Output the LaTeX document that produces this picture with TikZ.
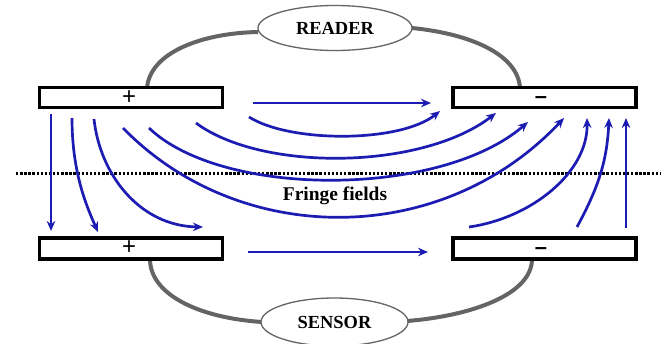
\documentclass[tikz,border=0pt]{standalone}
\usepackage{fontspec}
\setmainfont{Liberation Serif}
\newfontfamily\arial{Liberation Sans}
\usetikzlibrary{shapes.geometric,arrows.meta}
\definecolor{fieldblue}{RGB}{28,28,178}
\definecolor{wiregray}{RGB}{100,100,100}
\tikzset{
  plate/.style={draw=black, line width=3.4bp, fill=white, minimum width=183bp, minimum height=20bp, inner sep=0pt},
  unit/.style={ellipse, draw=wiregray, line width=1.3bp, fill=white, inner sep=0pt, font=\bfseries\fontsize{18.5}{19}\selectfont},
  plussign/.style={inner sep=0pt, font=\arial\fontsize{24}{24}\selectfont},
  minussign/.style={inner sep=0pt, anchor=base, font=\arial\bfseries\fontsize{22}{22}\selectfont},
  wire/.style={draw=wiregray, line width=4bp},
  field/.style={draw=fieldblue, line width=2.7bp, -{Stealth[length=10bp,width=8.5bp]}},
  fence/.style={line width=2.7bp, dash pattern=on 2.4bp off 1.7bp},
}
\begin{document}
\begin{tikzpicture}[x=1bp,y=-1bp]
\useasboundingbox (0,0) rectangle (661,343);
\fill[white] (0,0) rectangle (661,343);

% wires (drawn first, behind)
\coordinate (wTL) at (147,88);
\coordinate (wRL) at (258,32);
\coordinate (wRR) at (412,28);
\coordinate (wTR) at (520,88);
\coordinate (wBL) at (150,259);
\coordinate (wSL) at (262,322);
\coordinate (wSR) at (407,321);
\coordinate (wBR) at (532,259);
\draw[wire] (wTL) .. controls (150,52) and (203,33) .. (wRL);
\draw[wire] (wRR) .. controls (472,34) and (518,55) .. (wTR);
\draw[wire] (wBL) .. controls (150,295) and (200,318) .. (wSL);
\draw[wire] (wSR) .. controls (470,316) and (532,295) .. (wBR);

% units
\node[unit, minimum width=154bp, minimum height=45bp] (reader) at (335,28) {READER};
\node[unit, minimum width=147bp, minimum height=48bp] (sensor) at (334.5,322) {SENSOR};

% plates
\node[plate] (tl) at (131,97.5) {};
\node[plate] (tr) at (544.5,97.5) {};
\node[plate, minimum height=21bp] (bl) at (131,248.5) {};
\node[plate, minimum height=21bp] (br) at (544.5,248.5) {};
\node[plussign] (tlp) at (129,98) {+};
\node[plussign] (blp) at (129,248) {+};
\node[minussign] (trm) at (541,103) {–};
\node[minussign] (brm) at (541,254) {–};

% dotted boundary
\coordinate (fa) at (16,173.5);
\coordinate (fb) at (661,173.5);
\draw[fence] (fa) -- (fb);

\node[font=\bfseries\fontsize{19.5}{20}\selectfont] (fringe) at (335,196) {Fringe fields};

% field lines: straight
\coordinate (s1) at (253,103); \coordinate (e1) at (431,103);
\draw[field] (s1) -- (e1);
\coordinate (s2) at (248,252); \coordinate (e2) at (428,252);
\draw[field] (s2) -- (e2);

% arcs top-left to top-right
\coordinate (a1s) at (249,117); \coordinate (a1e) at (440,111);
\draw[field] (a1s) .. controls (290,143) and (400,143) .. (a1e);
\coordinate (a2s) at (196,123); \coordinate (a2e) at (496,113);
\draw[field] (a2s) .. controls (262,172) and (422,170) .. (a2e);
\coordinate (a3s) at (149,128); \coordinate (a3e) at (528,122);
\draw[field] (a3s) .. controls (222,198) and (440,198) .. (a3e);
\coordinate (a4s) at (123,128); \coordinate (a4e) at (564,118);
\draw[field] (a4s) .. controls (240,248) and (442,248) .. (a4e);

% left fan downward
\coordinate (l1s) at (51,114); \coordinate (l1e) at (51,231);
\draw[field] (l1s) -- (l1e);
\coordinate (l2s) at (72,118); \coordinate (l2e) at (98,232);
\draw[field] (l2s) .. controls (72,172) and (86,205) .. (l2e);
\coordinate (l3s) at (94,119); \coordinate (l3e) at (203,227);
\draw[field] (l3s) .. controls (100,175) and (140,226) .. (l3e);

% right fan upward
\coordinate (r1s) at (469,227); \coordinate (r1e) at (587,118);
\draw[field] (r1s) .. controls (532,218) and (588,172) .. (r1e);
\coordinate (r2s) at (577,227); \coordinate (r2e) at (609,118);
\draw[field] (r2s) .. controls (598,188) and (607,162) .. (r2e);
\coordinate (r3s) at (626,228); \coordinate (r3e) at (626,118);
\draw[field] (r3s) -- (r3e);
\end{tikzpicture}
\end{document}
